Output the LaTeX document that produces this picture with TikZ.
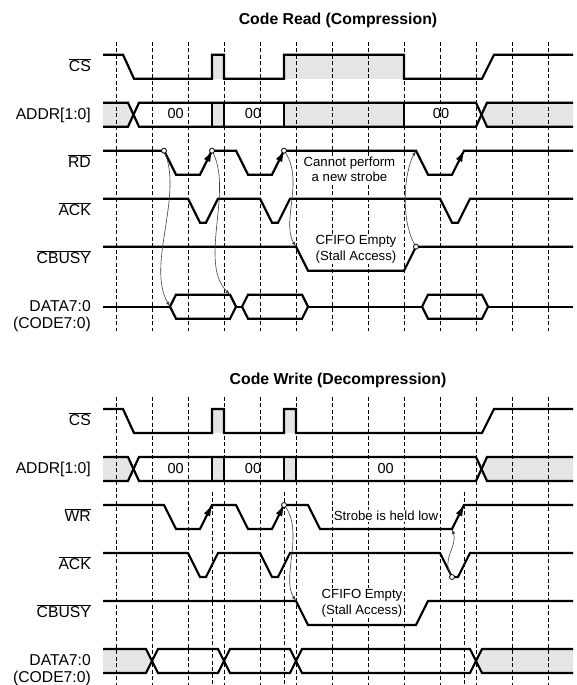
\documentclass[tikz,border=0pt]{standalone}
\usepackage{fontspec}
\setmainfont{Liberation Sans}
\usetikzlibrary{arrows.meta}
\newcommand{\ovl}[1]{$\overline{\mbox{#1}}$}
\begin{document}
\begin{tikzpicture}[x=1pt,y=-1pt,
  sig/.style={line width=2.2pt, line join=miter},
  vbar/.style={line width=2.2pt, line cap=rect},
  guide/.style={line width=0.9pt, dash pattern=on 4pt off 2.5pt},
  gfill/.style={fill=black!10},
  lab/.style={anchor=base east, inner sep=0pt, font=\fontsize{15.7}{18}\selectfont},
  ttl/.style={anchor=base, inner sep=0pt, font=\fontsize{15.8}{18}\selectfont\bfseries},
  note/.style={anchor=base, fill=white, inner sep=1pt, font=\fontsize{13.2}{15}\selectfont},
  val/.style={anchor=center, inner sep=0pt, font=\fontsize{14.5}{16}\selectfont},
  link/.style={line width=0.6pt, draw=black!75, -{Latex[length=5pt,width=3.2pt]}},
  strobe/.style={line width=0.8pt, -{Latex[length=11pt,width=7pt]}},
  ring/.style={circle, draw, fill=white, line width=0.8pt, inner sep=0pt, minimum size=5pt},
]
\useasboundingbox (0,0) rectangle (576,685);

% ---------- titles ----------
\node[ttl] (t1) at (338,24.3) {Code Read (Compression)};
\node[ttl] (t2) at (338,384.3) {Code Write (Decompression)};

% ---------- grey fills ----------
% top
\fill[gfill] (212,54.7) rectangle (224,78.7);
\fill[gfill] (284,54.7) rectangle (404,78.7);
\fill[gfill] (103,102.7)--(128,102.7)--(133.5,114.7)--(128,126.7)--(103,126.7)--cycle;
\fill[gfill] (212,102.7) rectangle (224,126.7);
\fill[gfill] (284,102.7) rectangle (404,126.7);
\fill[gfill] (573,102.7)--(487,102.7)--(481.5,114.7)--(487,126.7)--(573,126.7)--cycle;
% bottom
\fill[gfill] (212,409) rectangle (224,433);
\fill[gfill] (284,409) rectangle (296,433);
\fill[gfill] (103,457)--(128,457)--(133.5,469)--(128,481)--(103,481)--cycle;
\fill[gfill] (212,457) rectangle (224,481);
\fill[gfill] (284,457) rectangle (296,481);
\fill[gfill] (573,457)--(487,457)--(481.5,469)--(487,481)--(573,481)--cycle;
\fill[gfill] (103,649)--(146,649)--(152,661)--(146,673)--(103,673)--cycle;
\fill[gfill] (573,649)--(482,649)--(476,661)--(482,673)--(573,673)--cycle;

% ---------- dashed guides ----------
\foreach \x in {116.5,152.5,...,548.5} {
  \draw[guide] (\x,41.7)--(\x,331);
  \draw[guide] (\x,396.7)--(\x,685);
}
\foreach \x in {212,284,464} \draw[guide] (\x,491.7)--(\x,685);

% ---------- top signals ----------
\draw[sig] (103,54.7)--(123,54.7)--(134,78.7)--(212,78.7)--(212,54.7)--(224,54.7)--(224,78.7)--(284,78.7)--(284,54.7)--(404,54.7)--(404,78.7)--(482,78.7)--(494,54.7)--(573,54.7);
\draw[sig] (103,102.7)--(128,102.7)--(139,126.7)--(476,126.7)--(487,102.7)--(573,102.7);
\draw[sig] (103,126.7)--(128,126.7)--(139,102.7)--(476,102.7)--(487,126.7)--(573,126.7);
\foreach \x in {212,224,284,404} \draw[vbar] (\x,102.7)--(\x,126.7);
\draw[sig] (103,150.7)--(164,150.7)--(176,174.7)--(200,174.7)--(212,150.7)--(236,150.7)--(248,174.7)--(272,174.7)--(284,150.7)--(416,150.7)--(428,174.7)--(452,174.7)--(464,150.7)--(573,150.7);
\draw[sig] (103,198.7)--(188,198.7)--(200,222.7)--(206,222.7)--(218,198.7)--(260,198.7)--(272,222.7)--(278,222.7)--(290,198.7)--(440,198.7)--(452,222.7)--(458,222.7)--(470,198.7)--(573,198.7);
\draw[sig] (103,246.7)--(296,246.7)--(308,270.7)--(404,270.7)--(416,246.7)--(573,246.7);
\draw[sig] (103,306.7)--(170,306.7);
\draw[sig] (170,306.7)--(176,294.7)--(230,294.7)--(236,306.7)--(230,318.7)--(176,318.7)--cycle;
\draw[sig] (236,306.7)--(242,306.7);
\draw[sig] (242,306.7)--(248,294.7)--(302,294.7)--(308,306.7)--(302,318.7)--(248,318.7)--cycle;
\draw[sig] (308,306.7)--(422,306.7);
\draw[sig] (422,306.7)--(428,294.7)--(482,294.7)--(488,306.7)--(482,318.7)--(428,318.7)--cycle;
\draw[sig] (488,306.7)--(573,306.7);

% ---------- bottom signals ----------
\draw[sig] (103,409)--(123,409)--(134,433)--(212,433)--(212,409)--(224,409)--(224,433)--(284,433)--(284,409)--(296,409)--(296,433)--(482,433)--(494,409)--(573,409);
\draw[sig] (103,457)--(128,457)--(139,481)--(476,481)--(487,457)--(573,457);
\draw[sig] (103,481)--(128,481)--(139,457)--(476,457)--(487,481)--(573,481);
\foreach \x in {212,224,284,296} \draw[vbar] (\x,457)--(\x,481);
\draw[sig] (103,505)--(164,505)--(176,529)--(200,529)--(212,505)--(236,505)--(248,529)--(272,529)--(284,505)--(308,505)--(320,529)--(452,529)--(464,505)--(573,505);
\draw[sig] (103,553)--(188,553)--(200,577)--(206,577)--(218,553)--(260,553)--(272,577)--(278,577)--(290,553)--(440,553)--(452,577)--(458,577)--(470,553)--(573,553);
\draw[sig] (103,601)--(296,601)--(308,625)--(416,625)--(428,601)--(573,601);
\draw[sig] (103,649)--(146,649)--(158,673)--(218,673)--(230,649)--(290,649)--(302,673)--(470,673)--(482,649)--(573,649);
\draw[sig] (103,673)--(146,673)--(158,649)--(218,649)--(230,673)--(290,673)--(302,649)--(470,649)--(482,673)--(573,673);

% ---------- bus values ----------
\node[val] (v1) at (175.7,113.9) {00};
\node[val] (v2) at (253,113.9) {00};
\node[val] (v3) at (441,113.9) {00};
\node[val] (v4) at (175.7,468.2) {00};
\node[val] (v5) at (253,468.2) {00};
\node[val] (v6) at (385.7,468.2) {00};

% ---------- annotation points ----------
\coordinate (a1) at (164,150.7);
\coordinate (a2) at (212,150.7);
\coordinate (a3) at (284,150.7);
\coordinate (a4) at (416,246.7);
\coordinate (b1) at (170,306.7);
\coordinate (b2) at (230,294.7);
\coordinate (b3) at (296,246.7);
\coordinate (b4) at (416,150.7);
\coordinate (r1) at (200,174.7);
\coordinate (r2) at (272,174.7);
\coordinate (r3) at (452,174.7);
\coordinate (r4) at (464,150.7);
\coordinate (a5) at (284,505);
\coordinate (a6) at (452,577);
\coordinate (b5) at (296,601);
\coordinate (b6) at (452,529);
\coordinate (w1) at (200,529);
\coordinate (w2) at (212,505);
\coordinate (w3) at (272,529);
\coordinate (w4) at (464,505);

% strobe arrowheads on rising edges
\draw[strobe] (r1)--(a2);
\draw[strobe] (r2)--(a3);
\draw[strobe] (r3)--(r4);
\draw[strobe] (w1)--(w2);
\draw[strobe] (w3)--(a5);
\draw[strobe] (b6)--(w4);

% causal curves
\draw[link] (a1) .. controls (184,195) and (146,265) .. (b1);
\draw[link] (a2) .. controls (234,190) and (198,262) .. (b2);
\draw[link] (a3) .. controls (305,178) and (281,222) .. (b3);
\draw[link] (a4) .. controls (400,222) and (404,172) .. (b4);
\draw[link] (a5) .. controls (305,530) and (281,578) .. (b5);
\draw[link] (a6) .. controls (440,560) and (458,546) .. (b6);

\node[ring] (c1) at (a1) {};
\node[ring] (c2) at (a2) {};
\node[ring] (c3) at (a3) {};
\node[ring] (c4) at (a4) {};
\node[ring] (c5) at (a5) {};
\node[ring] (c6) at (a6) {};

% ---------- notes ----------
\node[note] (n1) at (349.4,166.7) {Cannot perform};
\node[note] (n2) at (349.5,181.7) {a new strobe};
\node[note] (n3) at (356,244.3) {CFIFO Empty};
\node[note] (n4) at (356,260) {(Stall Access)};
\node[note] (n5) at (386,520.7) {Strobe is held low};
\node[note] (n6) at (362,598.6) {CFIFO Empty};
\node[note] (n7) at (362,614) {(Stall Access)};

% ---------- signal labels ----------
\node[lab] (l1) at (91,71.4) {\ovl{CS}};
\node[lab] (l2) at (91,119.5) {ADDR[1:0]};
\node[lab] (l3) at (91,167.3) {\ovl{RD}};
\node[lab] (l4) at (91,215.3) {\ovl{ACK}};
\node[lab] (l5) at (91,263.3) {\ovl{CBUSY}};
\node[lab] (l6) at (91,311.5) {DATA7:0};
\node[lab] (l7) at (91,328) {(CODE7:0)};
\node[lab] (m1) at (91,425.7) {\ovl{CS}};
\node[lab] (m2) at (91,473.8) {ADDR[1:0]};
\node[lab] (m3) at (91,521.3) {\ovl{WR}};
\node[lab] (m4) at (91,569.6) {\ovl{ACK}};
\node[lab] (m5) at (91,617.6) {\ovl{CBUSY}};
\node[lab] (m6) at (91,665.8) {DATA7:0};
\node[lab] (m7) at (91,682.3) {(CODE7:0)};
\end{tikzpicture}
\end{document}
